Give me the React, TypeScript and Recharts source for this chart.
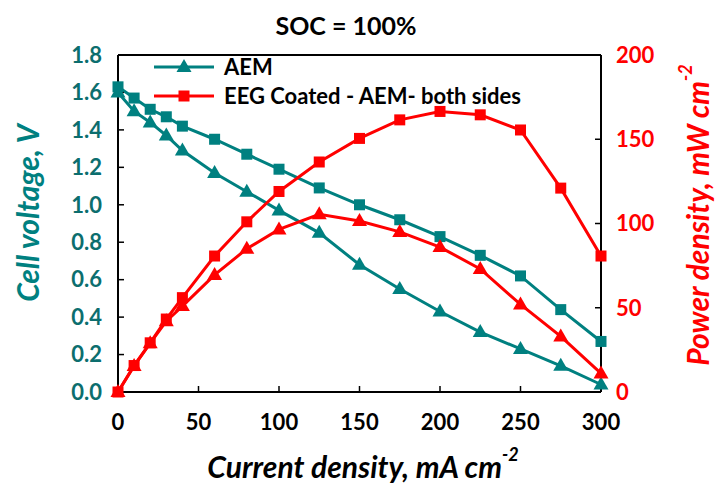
import React from "react";
import {
  LineChart,
  Line,
  XAxis,
  YAxis,
  Legend,
  ReferenceLine,
  Customized,
} from "recharts";

// courant (mA cm-2)
const current = [0, 10, 20, 30, 40, 60, 80, 100, 125, 150, 175, 200, 225, 250, 275, 300];

// tension de cellule (V)
const aemVoltage = [1.6, 1.5, 1.44, 1.37, 1.29, 1.17, 1.07, 0.97, 0.85, 0.68, 0.55, 0.43, 0.32, 0.23, 0.14, 0.04];
const eegVoltage = [1.63, 1.57, 1.51, 1.47, 1.42, 1.35, 1.27, 1.19, 1.09, 1.0, 0.92, 0.83, 0.73, 0.62, 0.44, 0.27];

// densité de puissance (mW cm-2)
const aemPower = [0, 15.5, 29, 42, 51, 69.5, 85, 96.5, 105.5, 101.5, 95, 86, 73, 52, 33, 11];
const eegPower = [0, 15.7, 29.2, 43.3, 56, 80.7, 101, 119, 136.5, 150.5, 161.5, 166.5, 164.5, 155.5, 121, 80.7];

const xTicks = [0, 50, 100, 150, 200, 250, 300];
const voltageTicks = [0, 0.2, 0.4, 0.6, 0.8, 1.0, 1.2, 1.4, 1.6, 1.8];
const powerTicks = [0, 50, 100, 150, 200];

const legendItems = [
  { label: "AEM", color: "#008080", shape: "triangle" },
  { label: "EEG Coated - AEM- both sides", color: "#ff0000", shape: "square" },
];

const TEAL = "#008080";
const TEAL_TEXT = "#0c6e6e";
const RED = "#ff0000";
const FONT = "Lato, 'Open Sans', sans-serif";

const chartData = current.map((x, i) => ({
  x,
  aemV: aemVoltage[i],
  eegV: eegVoltage[i],
  aemP: aemPower[i],
  eegP: eegPower[i],
}));

const Triangle = (props: any) => {
  const { cx, cy, fill } = props;
  if (cx == null || cy == null) return null;
  return (
    <polygon
      key={props.key}
      points={`${cx},${cy - 8} ${cx + 7.5},${cy + 5} ${cx - 7.5},${cy + 5}`}
      fill={fill}
    />
  );
};

const Square = (props: any) => {
  const { cx, cy, fill } = props;
  if (cx == null || cy == null) return null;
  return <rect key={props.key} x={cx - 5.5} y={cy - 5.5} width={11} height={11} fill={fill} />;
};

const renderLegend = () => (
  <div style={{ fontFamily: FONT, fontWeight: 700, fontSize: 22, color: "#000", whiteSpace: "nowrap" }}>
    {legendItems.map((item) => (
      <div key={item.label} style={{ display: "flex", alignItems: "center", height: 29 }}>
        <svg width={66} height={20} style={{ marginRight: 6 }}>
          <line x1={2} y1={10} x2={62} y2={10} stroke={item.color} strokeWidth={3} />
          {item.shape === "triangle" ? (
            <polygon points="32,2 39.5,15 24.5,15" fill={item.color} />
          ) : (
            <rect x={26.5} y={4.5} width={11} height={11} fill={item.color} />
          )}
        </svg>
        <span>{item.label}</span>
      </div>
    ))}
  </div>
);

const AxisTitles = () => (
  <g fontFamily={FONT} fontWeight={700}>
    <text x={346} y={25} textAnchor="middle" dominantBaseline="central" fontSize={25} fill="#000">
      SOC = 100%
    </text>
    <text x={363} y={466} textAnchor="middle" dominantBaseline="central" fontSize={30} fontStyle="italic" fill="#000">
      Current density, mA cm<tspan dy={-12} fontSize={18}>-2</tspan>
    </text>
    <text
      transform="translate(27,213) rotate(-90)"
      textAnchor="middle"
      dominantBaseline="central"
      fontSize={30}
      fontStyle="italic"
      fill={TEAL}
    >
      Cell voltage, V
    </text>
    <text
      transform="translate(697,215) rotate(-90)"
      textAnchor="middle"
      dominantBaseline="central"
      fontSize={30}
      fontStyle="italic"
      fill={RED}
    >
      Power density, mW cm<tspan dy={-12} fontSize={18}>-2</tspan>
    </text>
  </g>
);

export default function App() {
  return (
    <div style={{ position: "absolute", left: 0, top: 0, width: 717, height: 485, background: "#fff" }}>
      <LineChart
        width={717}
        height={485}
        data={chartData}
        margin={{ top: 55, right: 58, bottom: 43, left: 60 }}
      >
        <XAxis
          dataKey="x"
          type="number"
          domain={[0, 300]}
          ticks={xTicks}
          height={50}
          tickSize={-6}
          tickMargin={28}
          axisLine={{ stroke: "#000", strokeWidth: 2 }}
          tickLine={{ stroke: "#000", strokeWidth: 1.5 }}
          tick={{ fill: "#000", fontSize: 22, fontWeight: 700, fontFamily: FONT }}
        />
        <YAxis
          yAxisId="voltage"
          orientation="left"
          domain={[0, 1.8]}
          ticks={voltageTicks}
          width={58}
          tickSize={-6}
          tickMargin={22}
          tickFormatter={(v: number) => v.toFixed(1)}
          axisLine={{ stroke: "#000", strokeWidth: 2 }}
          tickLine={{ stroke: "#000", strokeWidth: 1.5 }}
          tick={{ fill: TEAL_TEXT, fontSize: 22, fontWeight: 700, fontFamily: FONT }}
        />
        <YAxis
          yAxisId="power"
          orientation="right"
          domain={[0, 200]}
          ticks={powerTicks}
          width={58}
          tickSize={-6}
          tickMargin={21}
          axisLine={{ stroke: "#000", strokeWidth: 2 }}
          tickLine={{ stroke: "#000", strokeWidth: 1.5 }}
          tick={{ fill: RED, fontSize: 22, fontWeight: 700, fontFamily: FONT }}
        />
        <ReferenceLine yAxisId="voltage" y={1.8} stroke="#000" strokeWidth={2} />
        <Legend
          verticalAlign="middle"
          align="center"
          layout="vertical"
          content={renderLegend}
          wrapperStyle={{ top: 52, left: 152, width: "auto" }}
        />
        <Line
          yAxisId="voltage"
          dataKey="eegV"
          stroke={TEAL}
          strokeWidth={3}
          dot={<Square fill={TEAL} />}
          isAnimationActive={false}
        />
        <Line
          yAxisId="voltage"
          dataKey="aemV"
          stroke={TEAL}
          strokeWidth={3}
          dot={<Triangle fill={TEAL} />}
          isAnimationActive={false}
        />
        <Line
          yAxisId="power"
          dataKey="eegP"
          stroke={RED}
          strokeWidth={3}
          dot={<Square fill={RED} />}
          isAnimationActive={false}
        />
        <Line
          yAxisId="power"
          dataKey="aemP"
          stroke={RED}
          strokeWidth={3}
          dot={<Triangle fill={RED} />}
          isAnimationActive={false}
        />
        <Customized component={AxisTitles} />
      </LineChart>
    </div>
  );
}
